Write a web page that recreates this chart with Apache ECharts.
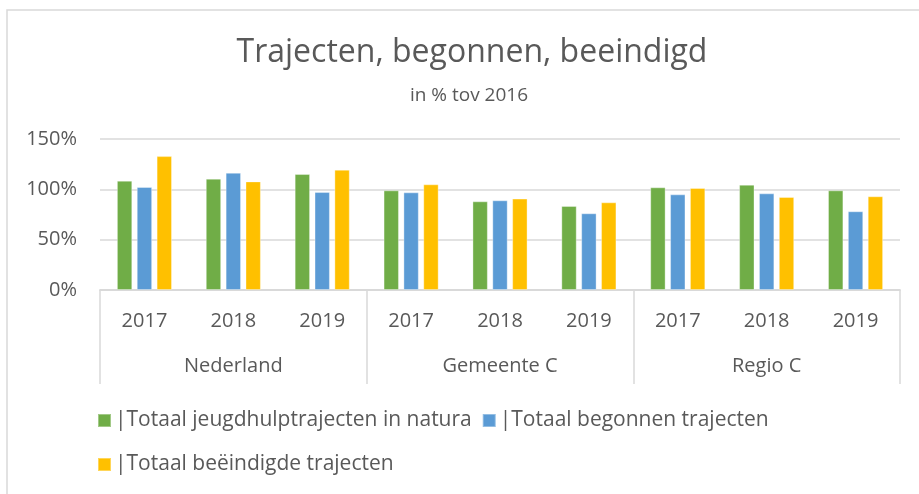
<!DOCTYPE html>
<html>
<head>
<meta charset="utf-8">
<script src="https://cdn.jsdelivr.net/npm/echarts@6/dist/echarts.min.js"></script>
<style>
  html, body { margin: 0; padding: 0; background: #fff; }
  #chart { width: 919px; height: 494px; }
</style>
</head>
<body>
<div id="chart"></div>
<script>
// values in % relative to 2016
const years = ['2017', '2018', '2019', '2017', '2018', '2019', '2017', '2018', '2019'];
const regions = ['Nederland', 'Gemeente C', 'Regio C'];
const seriesNames = [
  '|Totaal jeugdhulptrajecten in natura',
  '|Totaal begonnen trajecten',
  '|Totaal beëindigde trajecten'
];
const inNatura = [108.6, 110.6, 115.2, 99, 88.1, 83.5, 102, 104.6, 99];
const begonnen = [102.3, 116.5, 97.3, 97, 89.1, 76.2, 95, 96, 78.2];
const beeindigd = [133, 107.9, 119.5, 105, 90.8, 87.1, 101.3, 92.4, 93.1];
const yTicks = [0, 50, 100, 150];

const colors = ['#70AD47', '#5B9BD5', '#FFC000'];
const txt = '#595959';
const lineCol = '#d9d9d9';
const font = 'Open Sans';

const chart = echarts.init(document.getElementById('chart'));

function bar(name, data, color) {
  return {
    name: name,
    type: 'bar',
    data: data,
    barGap: '29%',
    barCategoryGap: '38%',
    itemStyle: { color: color, borderColor: 'rgba(255,255,255,0.35)', borderWidth: 1 },
    animation: false
  };
}

const legendBase = {
  icon: 'rect',
  itemWidth: 13,
  itemHeight: 13,
  itemGap: 10,
  textStyle: { color: txt, fontSize: 21, fontFamily: font, padding: [0, 0, 0, -1] }
};

chart.setOption({
  backgroundColor: '#fff',
  color: colors,
  title: [
    {
      text: 'Trajecten, begonnen, beeindigd',
      left: 467,
      top: 32,
      textAlign: 'center',
      textStyle: { color: txt, fontSize: 32, fontWeight: 'normal', fontFamily: font }
    },
    {
      text: 'in % tov 2016',
      left: 464,
      top: 81,
      textAlign: 'center',
      textStyle: { color: txt, fontSize: 19, fontWeight: 'normal', fontFamily: font }
    }
  ],
  graphic: [{
    type: 'rect',
    shape: { x: 7, y: 10, width: 960, height: 560 },
    style: { fill: 'none', stroke: lineCol, lineWidth: 1.5 },
    silent: true
  }],
  legend: [
    Object.assign({}, legendBase, { data: seriesNames.slice(0, 2), left: 92, top: 405 }),
    Object.assign({}, legendBase, { data: seriesNames.slice(2), left: 92, top: 449 })
  ],
  grid: { left: 100, right: 19, top: 139, bottom: 204 },
  xAxis: [
    {
      type: 'category',
      data: years,
      axisLine: { lineStyle: { color: lineCol, width: 1.5 } },
      axisTick: { show: false },
      axisLabel: { color: txt, fontSize: 20, fontFamily: font, margin: 21, interval: 0 }
    },
    {
      type: 'category',
      data: regions,
      position: 'bottom',
      axisLine: { lineStyle: { color: lineCol, width: 1.5 } },
      axisTick: { show: true, length: 94, interval: 0, lineStyle: { color: lineCol, width: 1.5 } },
      axisLabel: { color: txt, fontSize: 20, fontFamily: font, margin: 66, interval: 0 }
    }
  ],
  yAxis: {
    type: 'value',
    min: yTicks[0],
    max: yTicks[yTicks.length - 1],
    interval: 50,
    axisLine: { show: false },
    axisTick: { show: false },
    splitLine: { lineStyle: { color: lineCol, width: 1.5 } },
    axisLabel: { color: txt, fontSize: 20, fontFamily: font, margin: 23, formatter: '{value}%' }
  },
  series: [
    bar(seriesNames[0], inNatura, colors[0]),
    bar(seriesNames[1], begonnen, colors[1]),
    bar(seriesNames[2], beeindigd, colors[2])
  ]
});
</script>
</body>
</html>
